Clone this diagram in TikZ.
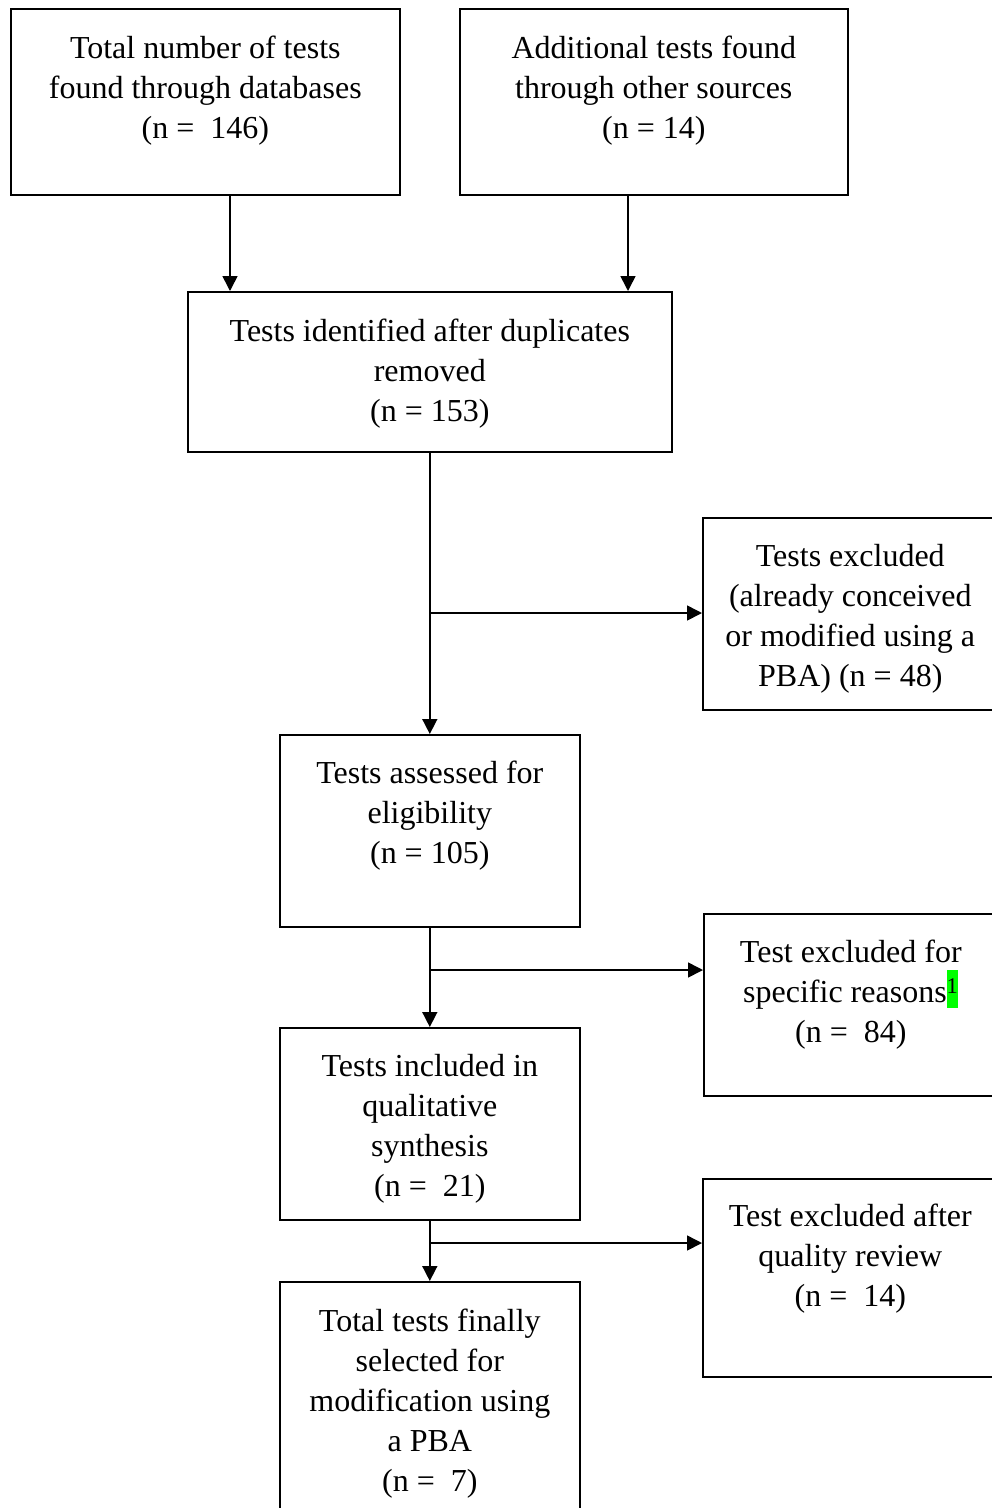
\documentclass[tikz,border=0pt]{standalone}
\usepackage{fontspec}
\setmainfont{Liberation Serif}
\usetikzlibrary{arrows.meta,calc}
\definecolor{hlgreen}{RGB}{0,255,0}
\tikzset{
  box/.style={draw=black, line width=1.6pt, rectangle, inner sep=0pt, anchor=north west},
  txt/.style={font=\fontsize{32}{40}\selectfont, align=center, inner sep=0pt, anchor=north},
  arr/.style={draw=black, line width=1.6pt, -{Triangle[length=15pt,width=15pt]}}
}
\begin{document}
\begin{tikzpicture}[x=1pt,y=-1pt]
\useasboundingbox (0,0) rectangle (992,1508);
\clip (0,0) rectangle (992,1508);
% boxes
\node[box, minimum width=389pt, minimum height=186pt] (b1) at (10,8) {};
\node[box, minimum width=388pt, minimum height=186pt] (b2) at (459,8) {};
\node[box, minimum width=484pt, minimum height=160pt] (b3) at (187,291) {};
\node[box, minimum width=295pt, minimum height=192pt] (b4) at (702,517) {};
\node[box, minimum width=300pt, minimum height=192pt] (b5) at (279,734) {};
\node[box, minimum width=294pt, minimum height=182pt] (b7) at (703,913) {};
\node[box, minimum width=300pt, minimum height=192pt] (b6) at (279,1027) {};
\node[box, minimum width=295pt, minimum height=198pt] (b9) at (702,1178) {};
\node[box, minimum width=300pt, minimum height=245pt] (b8) at (279,1281) {};
% texts
\node[txt] (t1) at ($(b1.north)+(0,22)$) {\strut Total number of tests\\found through databases\\(n = \ 146)};
\node[txt] (t2) at ($(b2.north)+(0,22)$) {\strut Additional tests found\\through other sources\\(n = 14)};
\node[txt] (t3) at ($(b3.north)+(0,22)$) {\strut Tests identified after duplicates\\removed\\(n = 153)};
\node[txt] (t4) at ($(b4.north)+(0,21)$) {\strut Tests excluded\\(already conceived\\or modified using a\\PBA) (n = 48)};
\node[txt] (t5) at ($(b5.north)+(0,21)$) {\strut Tests assessed for\\eligibility\\(n = 105)};
\node[txt] (t7) at ($(b7.north)+(0,21)$) {\strut Test excluded for\\specific reasons\smash{{\setlength{\fboxsep}{0pt}\colorbox{hlgreen}{\rule[-6pt]{0pt}{38pt}\textsuperscript{1}}}}\\(n = \ 84)};
\node[txt] (t6) at ($(b6.north)+(0,21)$) {\strut Tests included in\\qualitative\\synthesis\\(n = \ 21)};
\node[txt] (t9) at ($(b9.north)+(0,20)$) {\strut Test excluded after\\quality review\\(n = \ 14)};
\node[txt] (t8) at ($(b8.north)+(0,22)$) {\strut Total tests finally\\selected for\\modification using\\a PBA\\(n = \ 7)};
% junction coordinates
\coordinate (c1) at (230,0);
\coordinate (c2) at (628,0);
\coordinate (j1) at (429,613);
\coordinate (j2) at (429,970);
\coordinate (j3) at (431,1243);
% connectors
\draw[arr] (b1.south -| c1) -- (b3.north -| c1);
\draw[arr] (b2.south -| c2) -- (b3.north -| c2);
\draw[arr] (b3.south) -- (b5.north);
\draw[arr] (j1) -- (j1 -| b4.west);
\draw[arr] (b5.south) -- (b6.north);
\draw[arr] (j2) -- (j2 -| b7.west);
\draw[arr] (b6.south) -- (b8.north);
\draw[arr] (j3) -- (j3 -| b9.west);
\end{tikzpicture}
\end{document}
